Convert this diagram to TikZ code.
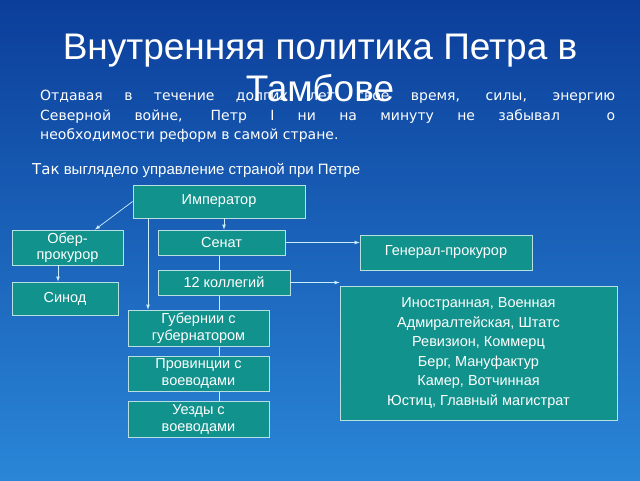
\documentclass[tikz,border=0pt]{standalone}
\usepackage{fontspec}
\setmainfont{Liberation Sans}
\newfontfamily\dv{DejaVu Sans}
\definecolor{bgtop}{HTML}{0B3E9A}
\definecolor{bgbot}{HTML}{2A86D8}
\definecolor{boxfill}{HTML}{12928C}
\definecolor{boxline}{HTML}{B8E0E0}
\begin{document}
\begin{tikzpicture}[x=1pt,y=-1pt,
 bx/.style={draw=boxline,fill=boxfill,text=white,line width=0.8pt,align=center,inner sep=0pt,font=\fontsize{14.5}{16}\selectfont},
 ln/.style={draw=white!80!cyan,line width=0.7pt},
 ar/.style={ln,-latex}]
\shade[top color=bgtop,bottom color=bgbot] (0,0) rectangle (640,480);
\useasboundingbox (0,0) rectangle (640,480);
\node[text=white,align=center,font=\fontsize{37}{42}\selectfont] (title) at (320,68) {Внутренняя политика Петра в\\Тамбове};
\node[text=white,text width=575pt,align=justify,anchor=north west,inner sep=0pt,font=\dv\fontsize{14}{19.5}\selectfont] (para) at (40,90) {Отдавая в течение долгих лет свое время, силы, энергию\linebreak Северной войне, Петр I ни на минуту не забывал \ о\linebreak необходимости реформ в самой стране.};
\node[text=white,anchor=west,inner sep=0pt,font=\fontsize{15}{16}\selectfont] (tak) at (32,170) {{\dv Так} выглядело управление страной при Петре};
\coordinate (s1) at (219,255);
\coordinate (s2) at (219,401);
\draw[ln] (s1) -- (s2);
\node[bx,minimum width=172pt,minimum height=33pt] (imp) at (219,201.5) {Император};
\node[bx,minimum width=111pt,minimum height=35pt] (ober) at (67.5,247.5) {Обер-\\прокурор};
\node[bx,minimum width=127pt,minimum height=25pt] (sen) at (221.5,242.5) {Сенат};
\node[bx,minimum width=172pt,minimum height=35pt] (gen) at (446,252.5) {Генерал-прокурор};
\node[bx,minimum width=132pt,minimum height=25pt] (kol) at (224,282.5) {12 коллегий};
\node[bx,minimum width=106pt,minimum height=33pt] (sin) at (65,298.5) {Синод};
\node[bx,minimum width=277pt,minimum height=134pt,font=\fontsize{14.5}{19.5}\selectfont] (big) at (478.5,353) {Иностранная, Военная\\Адмиралтейская, Штатс\\Ревизион, Коммерц\\Берг, Мануфактур\\Камер, Вотчинная\\Юстиц, Главный магистрат};
\node[bx,minimum width=141pt,minimum height=36pt,font=\fontsize{14.5}{17}\selectfont] (gub) at (198.5,328) {Губернии с\\губернатором};
\node[bx,minimum width=141pt,minimum height=35pt,font=\fontsize{14.5}{17}\selectfont] (prov) at (198.5,373.5) {Провинции с\\воеводами};
\node[bx,minimum width=141pt,minimum height=36pt,font=\fontsize{14.5}{17}\selectfont] (uez) at (198.5,419) {Уезды с\\воеводами};
\draw[ar] (imp.west) -- (ober.north east -| 95,0) ;
\draw[ar] (imp.south -| 148,0) -- (gub.north -| 148,0);
\draw[ar] (imp.south -| 224,0) -- (sen.north -| 224,0);
\draw[ar] (ober.south -| 58,0) -- (sin.north -| 58,0);
\draw[ar] (sen.east) -- (gen.west |- sen.east);
\draw[ar] (kol.east) -- (big.west |- kol.east);
\end{tikzpicture}
\end{document}
